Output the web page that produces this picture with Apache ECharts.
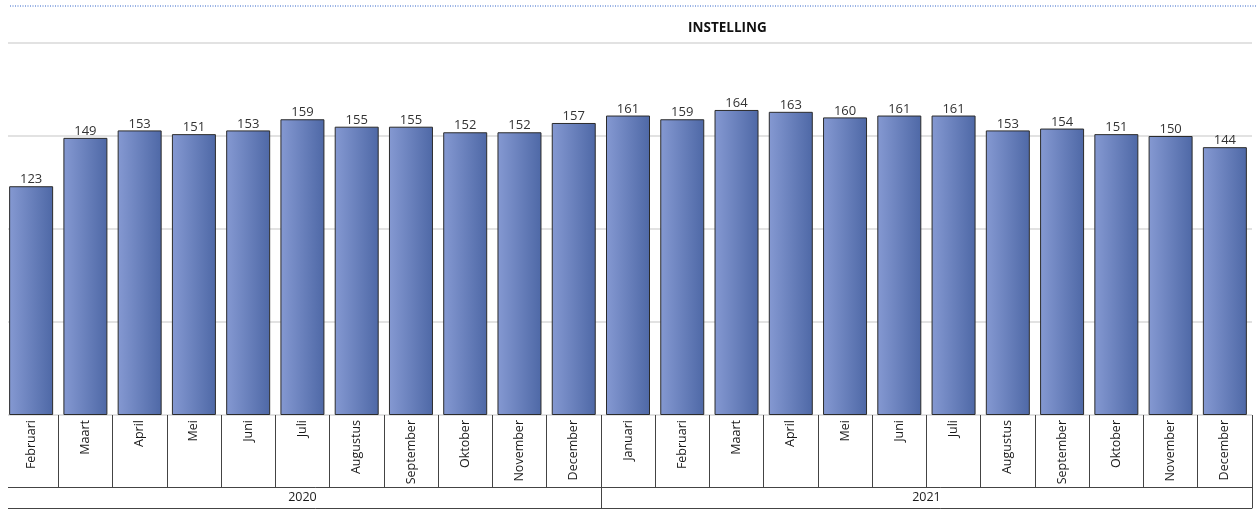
<!DOCTYPE html>
<html>
<head>
<meta charset="utf-8">
<script src="https://cdn.jsdelivr.net/npm/echarts@6/dist/echarts.min.js"></script>
<style>
html,body{margin:0;padding:0;background:#fff;}
#c{width:1256px;height:511px;}
</style>
</head>
<body>
<div id="c"></div>
<script>
const months = ['Februari','Maart','April','Mei','Juni','Juli','Augustus','September','Oktober','November','December',
                'Januari','Februari','Maart','April','Mei','Juni','Juli','Augustus','September','Oktober','November','December'];
const values = [123,149,153,151,153,159,155,155,152,152,157,
                161,159,164,163,160,161,161,153,154,151,150,144];
const years = ['2020','2021'];
const yearStart = [0, 11];   // index of first month of each year
const yearCount = [11, 12];  // number of months per year
const yTicks = [0, 50, 100, 150, 200];

const chart = echarts.init(document.getElementById('c'), null, {renderer:'canvas'});
const lineCol = '#444444';
const font = 'Open Sans, Liberation Sans, sans-serif';

const yearBounds = [yearStart[0], yearStart[1], yearStart[1] + yearCount[1]];
const yearCenters = years.map((y,i)=> yearStart[i] + yearCount[i]/2);

chart.setOption({
  animation:false,
  backgroundColor:'#ffffff',
  title:{
    text:'INSTELLING',
    left:683, top:16,
    textStyle:{fontSize:13.5, fontWeight:'bold', color:'#111', fontFamily:font}
  },
  grid:{left:4, right:4, top:43, bottom:96, containLabel:false},
  xAxis:[
    {
      type:'category',
      data:months,
      position:'bottom',
      axisLine:{show:false},
      axisTick:{show:true, length:72, interval:0, lineStyle:{color:lineCol, width:1}},
      axisLabel:{interval:0, rotate:90, margin:5, fontSize:12.5, color:'#1a1a1a', fontFamily:font},
      splitLine:{show:false}
    },
    {
      type:'value',
      min:0, max:months.length,
      position:'bottom',
      offset:72,
      axisLine:{show:true, lineStyle:{color:lineCol, width:1}},
      axisTick:{show:true, length:21, customValues:yearBounds, lineStyle:{color:lineCol, width:1}},
      axisLabel:{show:true, customValues:yearCenters, margin:4, fontSize:12.5, color:'#1a1a1a', fontFamily:font,
        formatter:function(v){ const i = yearCenters.indexOf(v); return i>=0 ? years[i] : ''; }},
      splitLine:{show:false}
    },
    {
      type:'value',
      min:0, max:months.length,
      position:'bottom',
      offset:93,
      axisLine:{show:true, lineStyle:{color:lineCol, width:1}},
      axisTick:{show:false},
      axisLabel:{show:false},
      splitLine:{show:false}
    }
  ],
  yAxis:{
    type:'value',
    min:yTicks[0], max:yTicks[yTicks.length-1], interval:yTicks[1]-yTicks[0],
    axisLine:{show:false},
    axisTick:{show:false},
    axisLabel:{show:false},
    splitLine:{show:true, lineStyle:{color:'#d9d9d9', width:1.5}}
  },
  series:[{
    type:'bar',
    xAxisIndex:0,
    data:values,
    barWidth:44,
    itemStyle:{
      color:new echarts.graphic.LinearGradient(0,0,1,0,[
        {offset:0, color:'#8599d2'},
        {offset:1, color:'#4e68a6'}
      ]),
      borderColor:'#2b2b2b',
      borderWidth:1
    },
    label:{show:true, position:'top', distance:0, fontSize:13, color:'#333', fontFamily:font}
  }],
  graphic:[
    {type:'line', shape:{x1:10, y1:6, x2:1256, y2:6}, style:{stroke:'#2f62c8', lineWidth:1, lineDash:[1,1.5]}, z:100},
    {type:'rect', shape:{x:0, y:30, width:8, height:481}, style:{fill:'#ffffff'}, z:100}
  ]
});
</script>
</body>
</html>
